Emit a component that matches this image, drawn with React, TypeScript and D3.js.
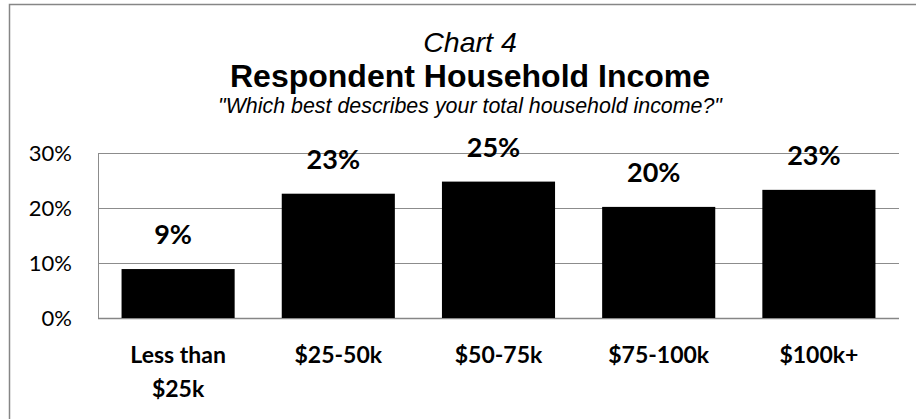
import React, { useEffect, useRef } from 'react';
import * as d3 from 'd3';

// chart data
const categories = ['Less than\n$25k', '$25-50k', '$50-75k', '$75-100k', '$100k+'];
const shares = [0.089, 0.226, 0.248, 0.202, 0.233];
const yTicks = [0, 0.1, 0.2, 0.3];

const titleLine1 = 'Chart 4';
const titleLine2 = 'Respondent Household Income';
const subtitle = '"Which best describes your total household income?"';

const W = 916;
const H = 419;

const App: React.FC = () => {
  const svgRef = useRef<SVGSVGElement>(null);

  useEffect(() => {
    if (!svgRef.current) return;
    const svg = d3.select(svgRef.current);
    svg.selectAll('*').remove();

    const plot = { left: 98, right: 899, top: 153, bottom: 318 };

    // outer frame (cropped on the right and bottom)
    svg.append('rect')
      .attr('x', 9.5)
      .attr('y', 4.5)
      .attr('width', W + 20)
      .attr('height', H + 20)
      .attr('fill', '#fff')
      .attr('stroke', '#868686')
      .attr('stroke-width', 1.5);

    const x = d3.scaleBand<string>()
      .domain(categories)
      .range([plot.left, plot.right])
      .paddingInner(0.294)
      .paddingOuter(0.147);

    const y = d3.scaleLinear()
      .domain([0, 0.3])
      .range([plot.bottom, plot.top]);

    // gridlines
    svg.append('g')
      .selectAll('line')
      .data(yTicks)
      .enter()
      .append('line')
      .attr('x1', plot.left)
      .attr('x2', plot.right)
      .attr('y1', d => Math.round(y(d)) + 0.5)
      .attr('y2', d => Math.round(y(d)) + 0.5)
      .attr('stroke', d => (d === 0 ? '#868686' : '#8c8c8c'))
      .attr('stroke-width', d => (d === 0 ? 1.5 : 1));

    svg.append('line')
      .attr('x1', plot.left + 0.5)
      .attr('x2', plot.left + 0.5)
      .attr('y1', plot.top)
      .attr('y2', plot.bottom)
      .attr('stroke', '#8c8c8c')
      .attr('stroke-width', 1);

    // y tick labels
    svg.append('g')
      .selectAll('text')
      .data(yTicks)
      .enter()
      .append('text')
      .attr('x', 72)
      .attr('y', d => y(d))
      .attr('dy', '0.35em')
      .attr('text-anchor', 'end')
      .style('font-family', 'Lato, sans-serif')
      .style('font-size', '22px')
      .style('fill', '#000')
      .text(d => d3.format('.0%')(d));

    // bars
    svg.append('g')
      .selectAll('rect')
      .data(shares)
      .enter()
      .append('rect')
      .attr('x', (_, i) => x(categories[i])!)
      .attr('y', d => y(d))
      .attr('width', x.bandwidth())
      .attr('height', d => plot.bottom - y(d))
      .attr('fill', '#000');

    // value labels
    svg.append('g')
      .selectAll('text')
      .data(shares)
      .enter()
      .append('text')
      .attr('x', (_, i) => x(categories[i])! + x.bandwidth() / 2 - 5)
      .attr('y', d => y(d) - 25)
      .attr('text-anchor', 'middle')
      .style('font-family', 'Lato, sans-serif')
      .style('font-weight', 'bold')
      .style('font-size', '27px')
      .text(d => d3.format('.0%')(d));

    // category labels
    const catLabels = svg.append('g')
      .selectAll('text')
      .data(categories)
      .enter()
      .append('text')
      .attr('x', d => x(d)! + x.bandwidth() / 2)
      .attr('y', 363)
      .attr('text-anchor', 'middle')
      .style('font-family', 'Lato, sans-serif')
      .style('font-weight', 'bold')
      .style('font-size', '23px');

    catLabels.each(function (d) {
      const lines = d.split('\n');
      const t = d3.select(this);
      lines.forEach((line, j) => {
        t.append('tspan')
          .attr('x', x(d)! + x.bandwidth() / 2)
          .attr('dy', j === 0 ? 0 : 34)
          .text(line);
      });
    });

    // titles
    const cx = 470;
    svg.append('text')
      .attr('x', cx)
      .attr('y', 52)
      .attr('text-anchor', 'middle')
      .style('font-family', '"Liberation Sans", Arial, sans-serif')
      .style('font-style', 'italic')
      .style('font-size', '28.5px')
      .text(titleLine1);

    svg.append('text')
      .attr('x', cx)
      .attr('y', 87)
      .attr('text-anchor', 'middle')
      .style('font-family', '"Liberation Sans", Arial, sans-serif')
      .style('font-weight', 'bold')
      .style('font-size', '32px')
      .text(titleLine2);

    svg.append('text')
      .attr('x', cx)
      .attr('y', 113)
      .attr('text-anchor', 'middle')
      .style('font-family', '"Liberation Sans", Arial, sans-serif')
      .style('font-style', 'italic')
      .style('font-size', '21.4px')
      .text(subtitle);
  }, []);

  return (
    <svg
      ref={svgRef}
      width={W}
      height={H}
      style={{ position: 'absolute', left: 0, top: 0, background: '#fff' }}
    />
  );
};

export default App;
